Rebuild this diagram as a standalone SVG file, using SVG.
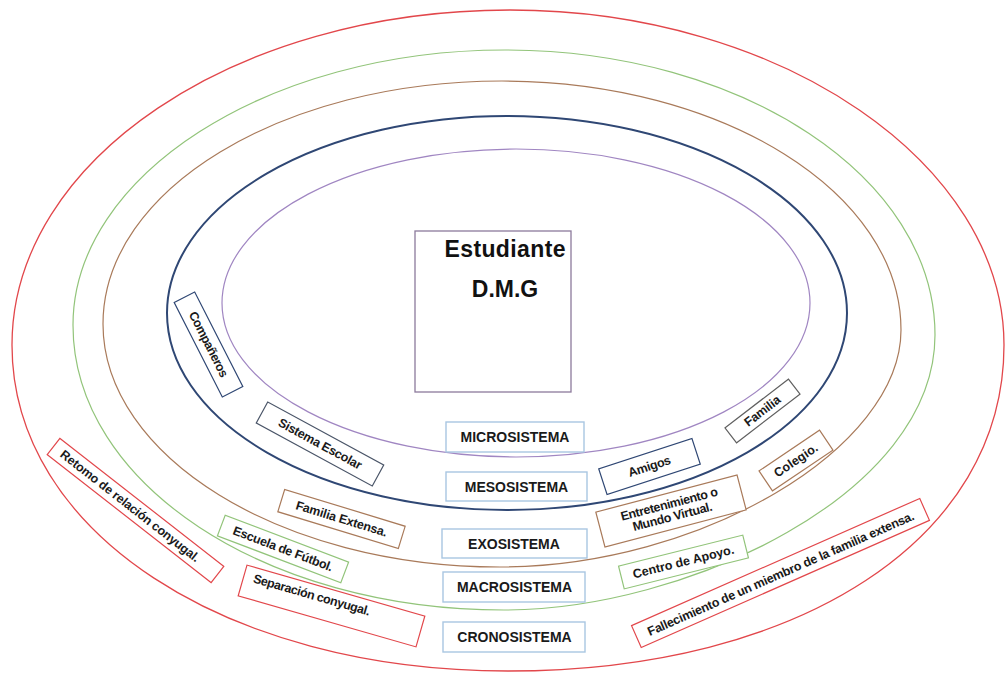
<svg xmlns="http://www.w3.org/2000/svg" width="1006" height="675" viewBox="0 0 1006 675">
<style>
.ring{fill:none}
.sysbox{fill:#fff;stroke:#a9c6e2;stroke-width:1.4}
.sys{font-family:"Liberation Sans",Arial,sans-serif;font-weight:bold;font-size:14px;fill:#1a1a1a;text-anchor:middle}
.box{fill:#fff;stroke-width:1.2}
.t{font-family:"Liberation Sans",Arial,sans-serif;font-weight:bold;font-size:12.5px;fill:#1a1a1a;text-anchor:middle;dominant-baseline:central}
.big{font-family:"Liberation Sans",Arial,sans-serif;font-weight:bold;font-size:23px;fill:#111;text-anchor:middle}
.red{stroke:#e2474b}.green{stroke:#92c47a}.brown{stroke:#a97a5a}.navy{stroke:#2f4774}.purple{stroke:#a086c2}
</style>
<rect width="1006" height="675" fill="#fff"/>
<g id="rings">
<path class="ring red" stroke-width="1.3" d="M510,10 C782.8,10 1004,165 1004,345 C1004,538.5 800.6,671 508,671 C225.3,671 12,532 12,345 C12,160 235,10 510,10 Z"/>
<path class="ring green" stroke-width="1.2" d="M505,50 C742.5,50 935,177.6 935,335 C935,494.5 685.1,610 504,610 C265.9,610 73,484.1 73,325 C73,175.9 267.1,50 505,50 Z"/>
<path class="ring brown" stroke-width="1.2" d="M502,81 C722.4,81 901,192.5 901,330 C901,448.5 700.5,567 500,567 C280.5,567 103,455.9 103,324 C103,189.3 282.5,81 502,81 Z"/>
<ellipse class="ring navy" cx="507" cy="313" rx="340" ry="197" stroke-width="2"/>
<ellipse class="ring purple" cx="516" cy="303" rx="294" ry="154" stroke-width="1.2"/>
</g>
<g id="connectors"/>
<g id="n-estudiante">
<rect x="415" y="231" width="156" height="161" fill="#fff" stroke="#8c7a9c" stroke-width="1.3"/>
<text class="big" x="505" y="257" textLength="121">Estudiante</text>
<text class="big" x="505" y="297">D.M.G</text>
</g>
<g id="n-micro"><rect class="sysbox" x="446" y="422" width="138" height="30"/><text class="sys" x="515" y="442">MICROSISTEMA</text></g>
<g id="n-meso"><rect class="sysbox" x="446" y="472" width="141" height="29"/><text class="sys" x="516.5" y="491.5">MESOSISTEMA</text></g>
<g id="n-exo"><rect class="sysbox" x="442" y="529" width="145" height="29"/><text class="sys" x="514" y="548.5">EXOSISTEMA</text></g>
<g id="n-macro"><rect class="sysbox" x="443" y="572" width="142" height="30"/><text class="sys" x="514.5" y="592">MACROSISTEMA</text></g>
<g id="n-crono"><rect class="sysbox" x="443" y="622" width="142" height="30"/><text class="sys" x="514.5" y="642">CRONOSISTEMA</text></g>

<g id="n-companeros" transform="translate(208.5,344.5) rotate(63)"><rect class="box navy" x="-53" y="-11.5" width="106" height="23"/><text class="t" textLength="72">Compañeros</text></g>
<g id="n-sistema" transform="translate(320,444) rotate(28.5)"><rect class="box" stroke="#4a5568" x="-66" y="-12" width="132" height="24"/><text class="t" textLength="93">Sistema Escolar</text></g>
<g id="n-familia" transform="translate(762.5,411) rotate(-37.5)"><rect class="box" stroke="#606060" x="-40" y="-9.5" width="80" height="19"/><text class="t" textLength="42">Familia</text></g>
<g id="n-amigos" transform="translate(649.5,466.5) rotate(-18)"><rect class="box navy" x="-49" y="-13.5" width="98" height="27"/><text class="t" textLength="44">Amigos</text></g>
<g id="n-colegio" transform="translate(796,460.5) rotate(-34)"><rect class="box brown" x="-36.5" y="-12" width="73" height="24"/><text class="t" textLength="50">Colegio.</text></g>
<g id="n-entretenimiento" transform="translate(671,511) rotate(-14.7)"><rect class="box brown" x="-73" y="-18" width="146" height="36"/><text class="t" y="-7" textLength="100">Entretenimiento o</text><text class="t" y="6" textLength="82">Mundo Virtual.</text></g>
<g id="n-centro" transform="translate(683.5,562) rotate(-14)"><rect class="box green" x="-64" y="-11.75" width="128" height="23.5"/><text class="t" textLength="104">Centro de Apoyo.</text></g>
<g id="n-fallecimiento" transform="translate(780.5,573) rotate(-23.8)"><rect class="box red" x="-157.5" y="-12" width="315" height="24"/><text class="t" y="1" textLength="290">Fallecimiento de un miembro de la familia extensa.</text></g>
<g id="n-familia-extensa" transform="translate(341.5,519) rotate(17)"><rect class="box brown" x="-63" y="-11.7" width="126" height="23.4"/><text class="t" textLength="95">Familia Extensa.</text></g>
<g id="n-escuela" transform="translate(283,549) rotate(20.8)"><rect class="box green" x="-66" y="-11" width="132" height="22"/><text class="t" textLength="106">Escuela de Fútbol.</text></g>
<g id="n-retomo" transform="translate(135.5,510.5) rotate(38)"><rect class="box red" x="-104" y="-10.3" width="208" height="20.6"/><text class="t" x="-7" textLength="173">Retomo de relación conyugal.</text></g>
<g id="n-separacion" transform="translate(331.5,606) rotate(16)"><rect class="box red" x="-92.5" y="-16" width="185" height="32"/><text class="t" x="-22" y="-5" textLength="121">Separación conyugal.</text></g>
</svg>
